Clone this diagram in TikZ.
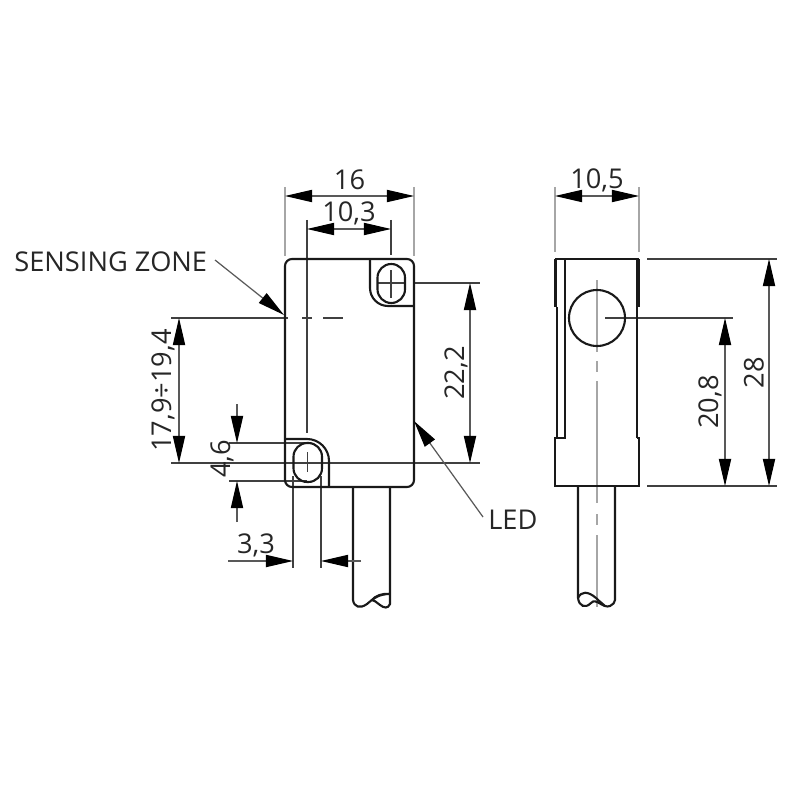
\documentclass[tikz,border=0pt]{standalone}
\usepackage{fontspec}
\setmainfont{Open Sans}
\usetikzlibrary{arrows.meta}
\tikzset{
    outline/.style={line width=1.2pt, black!90},
    heavy/.style={line width=2pt, black!90},
    thinline/.style={line width=0.6pt, black!75},
    greyline/.style={line width=0.8pt, black!35},
    dimline/.style={line width=0.6pt, black!65, {Triangle[length=15.5pt,width=7pt,black]}-{Triangle[length=15.5pt,width=7pt,black]}},
    tiponly/.style={line width=0.6pt, black!65, -{Triangle[length=15.5pt,width=7pt,black]}},
    dimtext/.style={font=\fontsize{15.5}{15.5}\selectfont, inner sep=0pt, text=black!85},
}
\begin{document}
\begin{tikzpicture}[x=0.02cm, y=-0.02cm]
    \useasboundingbox (0, 0) rectangle (800, 800);

    % front view
    \coordinate (F1) at (285, 259);
    \coordinate (F2) at (414, 259);
    \coordinate (F3) at (414, 487);
    \coordinate (F4) at (285, 487);

    \draw[greyline] (285, 187) -- (285, 256); % 16
    \draw[greyline] (414, 187) -- (414, 256);
    \draw[thinline] (307, 220) -- (307, 433); % 10,3
    \draw[thinline] (391, 220) -- (391, 255);
    \draw[thinline] (307.5, 452) -- (307.5, 472);
    \draw[thinline] (378, 283) -- (405, 283);
    \draw[thinline] (391, 270) -- (391, 298);
    \draw[thinline] (413, 283) -- (480, 283); % 22,2
    \draw[thinline] (171, 463) -- (480, 463);
    \draw[thinline] (171, 318) -- (288, 318); % sensing axis
    \draw[thinline] (302, 318) -- (312, 318);
    \draw[thinline] (323, 318) -- (343, 318);
    \draw[thinline] (229, 443) -- (307, 443); % 4,6
    \draw[thinline] (229, 481) -- (307, 481);
    \draw[thinline] (293, 476) -- (293, 568); % 3,3
    \draw[thinline] (321, 476) -- (321, 568);

    \draw[outline, rounded corners=4pt] (F1) -- (F2) -- (F3) -- (F4) -- cycle;
    \draw[outline] (370, 259) -- (370, 288) arc[start angle=180, end angle=90, radius=18] -- (414, 306); % top pocket
    \draw[outline] (285, 439) -- (307, 439) arc[start angle=270, end angle=360, radius=22] -- (329, 486); % bottom pocket
    \draw[outline, rounded corners=7.8pt] (377.5, 264) rectangle (405, 303);
    \draw[outline, rounded corners=7.8pt] (293.5, 443) rectangle (322, 482);

    % cable
    \draw[outline] (353, 487) -- (353, 600) .. controls (354, 607) and (360, 609) .. (367, 604) .. controls (374, 598) and (379, 594) .. (390, 594);
    \draw[outline] (390, 487) -- (390, 604) .. controls (388, 609) and (384, 608) .. (380, 605) .. controls (376, 602) and (374, 600) .. (372, 600) .. controls (375, 596) and (382, 593) .. (390, 594);

    \draw[dimline] (285, 196) -- node[dimtext, yshift=0.33cm] (w16) {16} (414, 196);
    \draw[dimline] (307, 229) -- node[dimtext, yshift=0.31cm] (w103) {10,3} (391, 229);
    \draw[dimline] (179, 318) -- node[dimtext, rotate=90, yshift=0.32cm] (h179) {17,9÷19,4} (179, 463);
    \draw[dimline] (470, 283) -- node[dimtext, rotate=90, yshift=0.28cm] (h222) {22,2} (470, 463);
    \draw[tiponly] (237, 404) -- (237, 443);
    \draw[tiponly] (237, 522) -- (237, 481);
    \node[dimtext, rotate=90] (h46) at (222, 459) {4,6};
    \draw[tiponly] (228, 561) -- (293, 561);
    \draw[tiponly] (361, 561) -- (321, 561);
    \node[dimtext] (w33) at (256, 545) {3,3};

    \node[dimtext, anchor=west] (zone) at (14, 262) {SENSING ZONE};
    \draw[tiponly, line width=0.7pt] (215, 260) -- (284, 315);
    \node[dimtext, anchor=west] (led) at (488, 520) {LED};
    \draw[tiponly, line width=0.7pt] (483, 517) -- (414, 421);

    % side view
    \draw[greyline] (555, 187) -- (555, 252); % 10,5
    \draw[greyline] (639, 187) -- (639, 252);
    \draw[greyline] (597, 280) -- (597, 352);
    \draw[greyline] (597, 361) -- (597, 372);
    \draw[greyline] (597, 381) -- (597, 503);
    \draw[greyline] (597, 514) -- (597, 525);
    \draw[greyline] (597, 535) -- (597, 607);
    \draw[thinline] (605, 318) -- (733, 318); % 20,8
    \draw[thinline] (647, 259) -- (777, 259);
    \draw[thinline] (647, 486) -- (777, 486);

    \draw[outline] (555, 259) -- (639, 259);
    \draw[heavy] (555.5, 259) -- (555.5, 307);
    \draw[heavy] (638.5, 259) -- (638.5, 307);
    \draw[outline] (557, 307) -- (557, 438) -- (565, 438) -- (565, 259);
    \draw[outline] (637, 259) -- (637, 438);
    \draw[outline] (557, 438) -- (555, 438) -- (555, 486) -- (639, 486) -- (639, 438) -- (637, 438);
    \draw[outline] (597, 318) circle[radius=28];

    % cable
    \draw[outline] (578, 486) -- (578, 598) .. controls (579, 606) and (585, 609) .. (591, 603) .. controls (596, 597) and (603, 609) .. (610, 606) .. controls (613, 605) and (615, 602) .. (615, 600) -- (615, 486);
    \draw[outline] (578, 598) .. controls (581, 591) and (588, 591) .. (596, 598) .. controls (600, 602) and (602, 603) .. (605, 606);

    \draw[dimline] (555, 196) -- node[dimtext, yshift=0.31cm] (w105) {10,5} (639, 196);
    \draw[dimline] (725, 318) -- node[dimtext, rotate=90, yshift=0.3cm] (h208) {20,8} (725, 486);
    \draw[dimline] (769, 259) -- node[dimtext, rotate=90, yshift=0.3cm] (h28) {28} (769, 486);
\end{tikzpicture}
\end{document}
